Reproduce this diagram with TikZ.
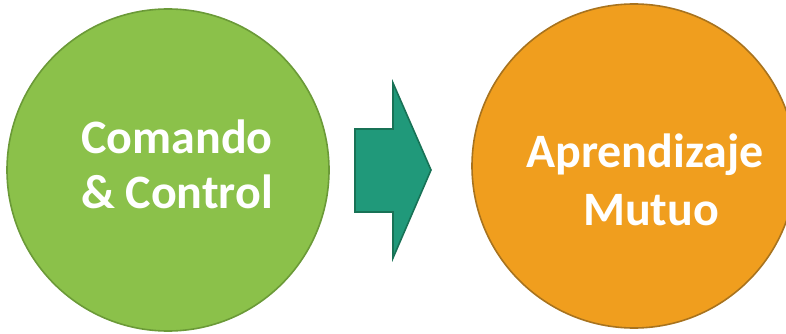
\documentclass[tikz,border=0pt]{standalone}
\usepackage{fontspec}
\setmainfont{Carlito}
\begin{document}
\begin{tikzpicture}[x=1pt,y=-1pt,
  bubble/.style={circle, line width=1.6pt, inner sep=0pt, minimum size=#1},
  caption/.style={text=white, font=\fontsize{48}{58}\selectfont\bfseries, align=center},
  bigarrow/.style={fill=arrowfill, draw=arrowline, line width=1.6pt, line join=miter}]
  \definecolor{greenfill}{HTML}{8BC14A}
  \definecolor{greenline}{HTML}{6B9A38}
  \definecolor{orangefill}{HTML}{F09E1E}
  \definecolor{orangeline}{HTML}{A8731E}
  \definecolor{arrowfill}{HTML}{20997A}
  \definecolor{arrowline}{HTML}{187256}
  \useasboundingbox (0,0) rectangle (786,334);
  \begin{scope}
    \clip (0,0) rectangle (786,334);
    % two states
    \node[bubble=322pt, fill=greenfill, draw=greenline] (cmd) at (168,170) {};
    \node[bubble=324pt, fill=orangefill, draw=orangeline] (mut) at (634,166) {};
    % transition arrow
    \coordinate (tail) at (355,170);
    \coordinate (tip) at (431,170);
    \draw[bigarrow] (tail) ++(0,-41) -- ++(38,0) -- ++(0,-46) -- (tip)
      -- (393,258) -- ++(0,-46) -- ++(-38,0) -- cycle;
    % labels
    \node[caption, anchor=base] (l1) at (177,153) {Comando};
    \node[caption, anchor=base] (l2) at (177,208) {\& Control};
    \node[caption, anchor=base] (m1) at (645,167) {Aprendizaje};
    \node[caption, anchor=base] (m2) at (651,225) {Mutuo};
  \end{scope}
\end{tikzpicture}
\end{document}
